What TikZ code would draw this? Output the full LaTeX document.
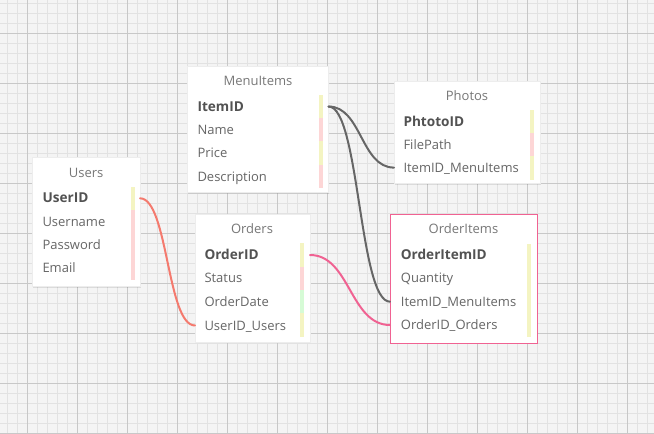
\documentclass[tikz,border=0pt]{standalone}
\usepackage{fontspec}
\setmainfont{Open Sans}
\usetikzlibrary{shadows}
\definecolor{gridbg}{HTML}{F4F4F4}
\definecolor{gridminor}{HTML}{E2E2E2}
\definecolor{gridmajor}{HTML}{C8C8C8}
\definecolor{txt}{HTML}{666666}
\definecolor{ttl}{HTML}{777777}
\definecolor{stripY}{HTML}{F4F4C2}
\definecolor{stripP}{HTML}{FDD6D6}
\definecolor{stripG}{HTML}{D6FBD6}
\definecolor{linkgray}{HTML}{666666}
\definecolor{linkred}{HTML}{F47A6E}
\definecolor{linkpink}{HTML}{F06292}
\begin{document}
\begin{tikzpicture}[x=1pt,y=-1pt,
  tbl/.style={fill=white, draw=black!7, line width=.5pt, inner sep=0pt, outer sep=0pt,
    general shadow={fill=black, opacity=.10, shadow xshift=.6pt, shadow yshift=-1.2pt}},
  fld/.style={anchor=west, inner sep=0pt, text=txt, text height=9.3pt, text depth=0pt,
    font=\fontsize{13}{15}\selectfont},
  key/.style={fld, text=black!68, font=\fontsize{13.6}{15}\selectfont\bfseries},
  title/.style={inner sep=0pt, text=ttl, text height=9.3pt, text depth=0pt,
    font=\fontsize{13}{15}\selectfont},
  link/.style={line width=2pt, line cap=round}
]
\useasboundingbox (0,0) rectangle (654,434);
\fill[gridbg] (0,0) rectangle (654,434);
\foreach \x in {7,17,...,647} \draw[gridminor, line width=1pt] (\x,0) -- (\x,434);
\foreach \y in {3,13,...,433} \draw[gridminor, line width=1pt] (0,\y) -- (654,\y);
\foreach \x in {27,77,...,627} \draw[gridmajor, line width=1pt] (\x,0) -- (\x,434);
\foreach \y in {33,83,...,433} \draw[gridmajor, line width=1pt] (0,\y) -- (654,\y);

% ---------- MenuItems ----------
\node[tbl, minimum width=141pt, minimum height=126pt] (menu) at (258,129.5) {};
\node[title] (menu-t) at (258,80.7) {MenuItems};
\node[key] (menu-id) at (197.3,106.5) {ItemID};
\node[fld] (menu-name) at (197.3,129.9) {Name};
\node[fld] (menu-price) at (197.3,153.3) {Price};
\node[fld] (menu-desc) at (197.3,176.7) {Description};
\fill[stripY] (319,95) rectangle (323.3,118.2);
\fill[stripP] (319,118.2) rectangle (323.3,141.4);
\fill[stripY] (319,141.4) rectangle (323.3,164.6);
\fill[stripP] (319,164.6) rectangle (323.3,187.7);

% ---------- Photos ----------
\node[tbl, minimum width=146pt, minimum height=102.5pt] (photos) at (467,132.25) {};
\node[title] (photos-t) at (467,95.7) {Photos};
\node[key] (photos-id) at (403.3,121.4) {PhtotoID};
\node[fld] (photos-path) at (403.3,144.6) {FilePath};
\node[fld] (photos-fk) at (403.3,167.6) {ItemID\_MenuItems};
\fill[stripY] (530,110) rectangle (534,133);
\fill[stripP] (530,133) rectangle (534,156.3);
\fill[stripY] (530,156.3) rectangle (534,180);

% ---------- Users ----------
\node[tbl, minimum width=107.5pt, minimum height=129.5pt] (users) at (86.25,221.75) {};
\node[title] (users-t) at (86.2,172.7) {Users};
\node[key] (users-id) at (42.3,198.3) {UserID};
\node[fld] (users-name) at (42.3,221.7) {Username};
\node[fld] (users-pw) at (42.3,245) {Password};
\node[fld] (users-mail) at (42.3,268.3) {Email};
\fill[stripY] (131,187) rectangle (135,210);
\fill[stripP] (131,210) rectangle (135,280);

% ---------- Orders ----------
\node[tbl, minimum width=115pt, minimum height=127.5pt] (orders) at (252.5,278.25) {};
\node[title] (orders-t) at (252,229.3) {Orders};
\node[key] (orders-id) at (204.3,255) {OrderID};
\node[fld] (orders-status) at (204.3,278.3) {Status};
\node[fld] (orders-date) at (204.3,301.6) {OrderDate};
\node[fld] (orders-fk) at (204.3,325.5) {UserID\_Users};
\fill[stripY] (300,243.3) rectangle (304,266.7);
\fill[stripP] (300,266.7) rectangle (304,290);
\fill[stripG] (300,290) rectangle (304,313.3);
\fill[stripY] (300,313.3) rectangle (304,336.7);

% ---------- OrderItems ----------
\node[tbl, draw=linkpink, line width=1pt, minimum width=147.5pt, minimum height=128.5pt] (oitems) at (463.75,278.75) {};
\node[title] (oitems-t) at (463.5,229.3) {OrderItems};
\node[key] (oitems-id) at (400.7,255) {OrderItemID};
\node[fld] (oitems-qty) at (400.7,278.3) {Quantity};
\node[fld] (oitems-item) at (400.7,301.7) {ItemID\_MenuItems};
\node[fld] (oitems-order) at (400.7,325) {OrderID\_Orders};
\fill[stripY] (527.3,244) rectangle (531,336.5);

% ---------- connector end points ----------
\coordinate (menuOut) at (menu.east |- menu-id);
\coordinate (photosIn) at (photos.west |- photos-fk);
\coordinate (oitemsInItem) at (oitems.west |- oitems-item);
\coordinate (oitemsInOrder) at (oitems.west |- oitems-order);
\coordinate (ordersOut) at (orders.east |- orders-id);
\coordinate (ordersIn) at (orders.west |- orders-fk);
\coordinate (usersOut) at (users.east |- users-id);

% ---------- connectors ----------
\draw[link, linkgray] (menuOut) .. controls +(33,0) and +(-33,0) .. (photosIn);
\draw[link, linkgray] (menuOut) .. controls +(31,0) and +(-31,0) .. (oitemsInItem);
\draw[link, linkred] (usersOut) .. controls +(28,0) and +(-28,0) .. (ordersIn);
\draw[link, linkpink] (ordersOut) .. controls +(40,0) and +(-40,0) .. (oitemsInOrder);
\end{tikzpicture}
\end{document}
